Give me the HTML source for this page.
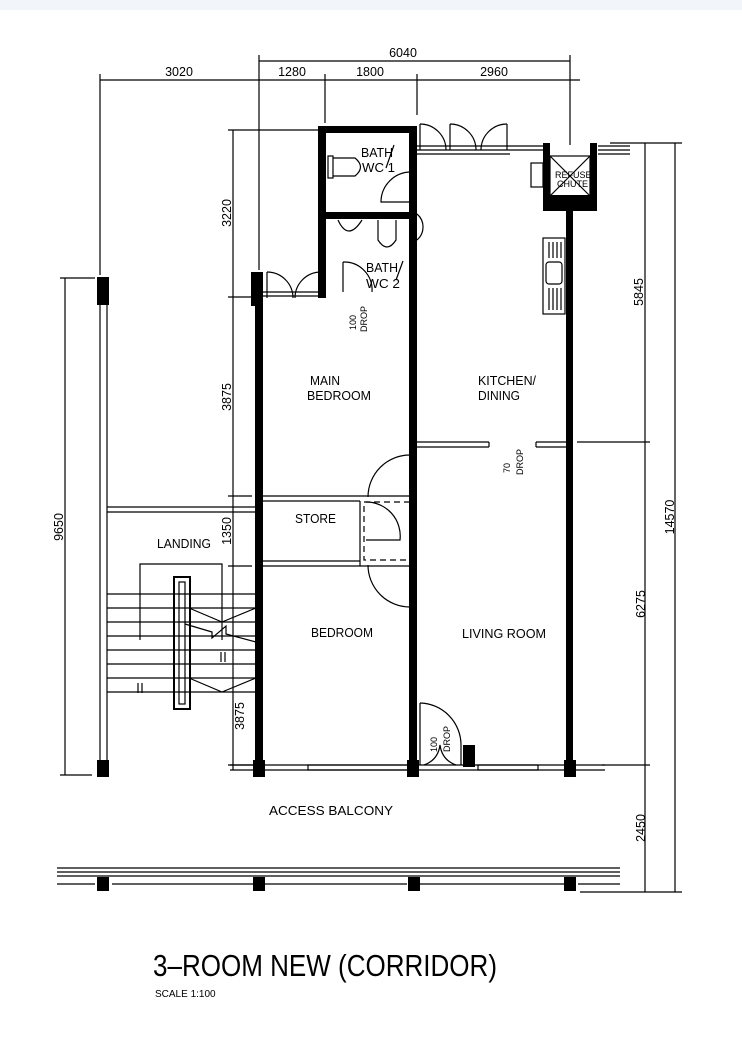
<!DOCTYPE html>
<html><head><meta charset="utf-8"><style>
html,body{margin:0;padding:0;background:#fff}
svg{display:block}
text{font-family:"Liberation Sans",sans-serif;fill:#000}
</style></head><body>
<svg width="742" height="1037" viewBox="0 0 742 1037" xmlns="http://www.w3.org/2000/svg">
<rect x="0" y="0" width="742" height="10" fill="#f2f5f9"/>
<g stroke="#000" stroke-width="1.2" fill="none">
<line x1="259" y1="61" x2="570" y2="61"/>
<line x1="100" y1="80" x2="580" y2="80"/>
<line x1="259" y1="55" x2="259" y2="270"/>
<line x1="325" y1="74" x2="325" y2="123"/>
<line x1="417" y1="74" x2="417" y2="115"/>
<line x1="570" y1="55" x2="570" y2="145"/>
<line x1="100" y1="74" x2="100" y2="275"/>
<line x1="233" y1="130" x2="233" y2="770"/>
<line x1="228" y1="130" x2="318" y2="130"/>
<line x1="228" y1="297" x2="255" y2="297"/>
<line x1="228" y1="496" x2="252" y2="496"/>
<line x1="228" y1="566" x2="252" y2="566"/>
<line x1="228" y1="765" x2="255" y2="765"/>
<line x1="65" y1="278" x2="65" y2="775"/>
<line x1="60" y1="278" x2="95" y2="278"/>
<line x1="60" y1="775" x2="92" y2="775"/>
<line x1="645" y1="143" x2="645" y2="892"/>
<line x1="675" y1="143" x2="675" y2="892"/>
<line x1="610" y1="143" x2="682" y2="143"/>
<line x1="577" y1="442" x2="650" y2="442"/>
<line x1="602" y1="765" x2="650" y2="765"/>
<line x1="580" y1="892" x2="682" y2="892"/>
<line x1="100" y1="280" x2="100" y2="765"/>
<line x1="107" y1="280" x2="107" y2="765"/>
<line x1="107" y1="507" x2="256" y2="507"/>
<line x1="107" y1="512" x2="256" y2="512"/>
<polyline points="140,640 140,564 222,564 222,640"/>
<line x1="107" y1="594" x2="256" y2="594"/>
<line x1="107" y1="608" x2="256" y2="608"/>
<line x1="107" y1="622" x2="256" y2="622"/>
<line x1="107" y1="636" x2="256" y2="636"/>
<line x1="107" y1="650" x2="256" y2="650"/>
<line x1="107" y1="664" x2="256" y2="664"/>
<line x1="107" y1="678" x2="256" y2="678"/>
<line x1="107" y1="692" x2="256" y2="692"/>
<polyline points="189,608 222,622 256,608"/>
<polyline points="189,678 222,692 256,678"/>
<polyline points="185,624 212,632 212,638 226,626 226,634 256,642"/>
<rect x="174" y="577" width="16" height="132" stroke-width="2"/>
<rect x="179" y="582" width="6" height="122"/>
<line x1="138" y1="683" x2="138" y2="693"/><line x1="142" y1="683" x2="142" y2="693"/>
<line x1="221" y1="652" x2="221" y2="662"/><line x1="225" y1="652" x2="225" y2="662"/>
<line x1="230" y1="765" x2="605" y2="765"/>
<line x1="230" y1="770" x2="605" y2="770"/>
<rect x="308" y="765" width="110" height="5"/>
<rect x="478" y="765" width="60" height="5"/>
<line x1="57" y1="868" x2="620" y2="868"/>
<line x1="57" y1="872" x2="620" y2="872"/>
<line x1="57" y1="876" x2="620" y2="876"/>
<line x1="57" y1="884" x2="95" y2="884"/>
<line x1="112" y1="884" x2="253" y2="884"/>
<line x1="265" y1="884" x2="407" y2="884"/>
<line x1="420" y1="884" x2="564" y2="884"/>
<line x1="578" y1="884" x2="620" y2="884"/>
<line x1="417" y1="146" x2="543" y2="146"/>
<line x1="417" y1="150" x2="543" y2="150"/>
<line x1="417" y1="154" x2="510" y2="154"/>
<line x1="598" y1="146" x2="630" y2="146"/>
<line x1="598" y1="150" x2="630" y2="150"/>
<line x1="598" y1="154" x2="630" y2="154"/>
<path d="M420 124 A26 26 0 0 1 446 150"/>
<line x1="420" y1="124" x2="420" y2="150"/>
<path d="M450 124 A26 26 0 0 1 476 150"/>
<line x1="450" y1="124" x2="450" y2="150"/>
<path d="M507 124 A26 26 0 0 0 481 150"/>
<line x1="507" y1="124" x2="507" y2="150"/>
<line x1="263" y1="292" x2="322" y2="292"/>
<line x1="263" y1="296" x2="322" y2="296"/>
<path d="M267 272 A26 26 0 0 1 293 298"/>
<line x1="267" y1="272" x2="267" y2="298"/>
<path d="M321 272 A26 26 0 0 0 295 298"/>
<path d="M417 214 A17 17 0 0 1 417 240"/>
<rect x="543" y="238" width="22" height="76"/>
<rect x="546" y="262" width="16" height="22" rx="3"/>
<line x1="549" y1="242" x2="549" y2="258"/><line x1="553" y1="242" x2="553" y2="258"/><line x1="557" y1="242" x2="557" y2="258"/><line x1="561" y1="242" x2="561" y2="258"/>
<line x1="549" y1="288" x2="549" y2="310"/><line x1="553" y1="288" x2="553" y2="310"/><line x1="557" y1="288" x2="557" y2="310"/><line x1="561" y1="288" x2="561" y2="310"/>
<rect x="531" y="163" width="12" height="24"/>
<rect x="550" y="156" width="40" height="40"/>
<line x1="550" y1="156" x2="590" y2="196"/>
<line x1="590" y1="156" x2="550" y2="196"/>
<line x1="417" y1="442" x2="489" y2="442"/>
<line x1="417" y1="447" x2="489" y2="447"/>
<line x1="536" y1="442" x2="568" y2="442"/>
<line x1="536" y1="447" x2="568" y2="447"/>
<line x1="489" y1="442" x2="489" y2="447"/><line x1="536" y1="442" x2="536" y2="447"/>
<line x1="263" y1="496" x2="416" y2="496"/>
<line x1="263" y1="501" x2="360" y2="501"/>
<line x1="263" y1="561" x2="360" y2="561"/>
<line x1="263" y1="566" x2="416" y2="566"/>
<polyline points="360,501 360,566"/>
<rect x="364" y="502" width="52" height="58" stroke-dasharray="6,4"/>
<path d="M366 502 A34 34 0 0 1 400 540 L366 540"/>
<path d="M410 455 A42 42 0 0 0 368 497"/>
<path d="M410 607 A42 42 0 0 1 368 565"/>
<path d="M420 703 A42 42 0 0 1 461 745 L461 765"/>
<line x1="420" y1="703" x2="420" y2="765"/>
<path d="M424 765 Q438 760 440 745 Q442 760 456 765"/>
</g>
<g fill="#000">
<rect x="255" y="290" width="8" height="480"/>
<rect x="318" y="128" width="8" height="170"/>
<rect x="318" y="126" width="99" height="7"/>
<rect x="318" y="212" width="99" height="7"/>
<rect x="409" y="128" width="8" height="642"/>
<rect x="543" y="143" width="7" height="68"/>
<rect x="590" y="143" width="7" height="68"/>
<rect x="543" y="195" width="54" height="16"/>
<rect x="566" y="210" width="7" height="560"/>
<rect x="253" y="760" width="12" height="17"/>
<rect x="407" y="760" width="12" height="17"/>
<rect x="564" y="760" width="12" height="17"/>
<rect x="97" y="760" width="12" height="17"/>
<rect x="97" y="277" width="12" height="28"/>
<rect x="251" y="272" width="12" height="34"/>
<rect x="463" y="745" width="12" height="22"/>
<rect x="97" y="877" width="12" height="14"/>
<rect x="253" y="877" width="12" height="14"/>
<rect x="408" y="877" width="12" height="14"/>
<rect x="564" y="877" width="12" height="14"/>
</g>
<rect x="326" y="133" width="80" height="77" fill="#fff" rx="4"/>
<rect x="326" y="219" width="82" height="74" fill="#fff" rx="4"/>
<rect x="362" y="290" width="40" height="10" fill="#fff"/>
<g stroke="#000" fill="none" stroke-width="1.2">
<rect x="328" y="156" width="5" height="22"/>
<path d="M333 158 L355 158 Q366 167 355 176 L333 176"/>
<path d="M338 220 Q348 242 362 220"/>
<path d="M378 220 L378 240 Q387 254 396 240 L396 220"/>
<path d="M343 262 A28 28 0 0 1 372 292"/>
<line x1="343" y1="262" x2="343" y2="292"/>
<path d="M411 172 A30 30 0 0 0 381 202 L411 202"/>
<line x1="394" y1="145" x2="386" y2="168"/>
<line x1="403" y1="261" x2="396" y2="280"/>
</g>
<g font-size="12.5">
<text x="403" y="57" text-anchor="middle">6040</text>
<text x="179" y="76" text-anchor="middle">3020</text>
<text x="292" y="76" text-anchor="middle">1280</text>
<text x="370" y="76" text-anchor="middle">1800</text>
<text x="494" y="76" text-anchor="middle">2960</text>
<text transform="translate(231,213) rotate(-90)" text-anchor="middle">3220</text>
<text transform="translate(231,397) rotate(-90)" text-anchor="middle">3875</text>
<text transform="translate(231,531) rotate(-90)" text-anchor="middle">1350</text>
<text transform="translate(244,716) rotate(-90)" text-anchor="middle">3875</text>
<text transform="translate(63,527) rotate(-90)" text-anchor="middle">9650</text>
<text transform="translate(643,292) rotate(-90)" text-anchor="middle">5845</text>
<text transform="translate(645,604) rotate(-90)" text-anchor="middle">6275</text>
<text transform="translate(645,828) rotate(-90)" text-anchor="middle">2450</text>
<text transform="translate(674,517) rotate(-90)" text-anchor="middle">14570</text>
<text x="361" y="157" textLength="32" lengthAdjust="spacingAndGlyphs">BATH</text>
<text x="362" y="172" textLength="33" lengthAdjust="spacingAndGlyphs">WC  1</text>
<text x="366" y="272" textLength="32" lengthAdjust="spacingAndGlyphs">BATH</text>
<text x="366" y="288" textLength="34" lengthAdjust="spacingAndGlyphs">WC  2</text>
<text x="310" y="385" textLength="30" lengthAdjust="spacingAndGlyphs">MAIN</text>
<text x="307" y="400" textLength="64" lengthAdjust="spacingAndGlyphs">BEDROOM</text>
<text x="478" y="385" textLength="58" lengthAdjust="spacingAndGlyphs">KITCHEN/</text>
<text x="478" y="400" textLength="42" lengthAdjust="spacingAndGlyphs">DINING</text>
<text x="295" y="523" textLength="41" lengthAdjust="spacingAndGlyphs">STORE</text>
<text x="157" y="548" textLength="54" lengthAdjust="spacingAndGlyphs">LANDING</text>
<text x="311" y="637" textLength="62" lengthAdjust="spacingAndGlyphs">BEDROOM</text>
<text x="462" y="638" textLength="84" lengthAdjust="spacingAndGlyphs">LIVING  ROOM</text>
<text x="269" y="815" textLength="124" lengthAdjust="spacingAndGlyphs">ACCESS  BALCONY</text>
</g>
<g font-size="9">
<text x="555" y="178">REFUSE</text>
<text x="557" y="187">CHUTE</text>
<text transform="translate(356,330) rotate(-90)">100</text>
<text transform="translate(367,332) rotate(-90)">DROP</text>
<text transform="translate(510,473) rotate(-90)">70</text>
<text transform="translate(523,475) rotate(-90)">DROP</text>
<text transform="translate(437,752) rotate(-90)">100</text>
<text transform="translate(450,752) rotate(-90)">DROP</text>
</g>
<text x="153" y="976" font-size="31" textLength="344" lengthAdjust="spacingAndGlyphs">3–ROOM NEW (CORRIDOR)</text>
<text x="155" y="997" font-size="10">SCALE  1:100</text>
</svg>
</body></html>
